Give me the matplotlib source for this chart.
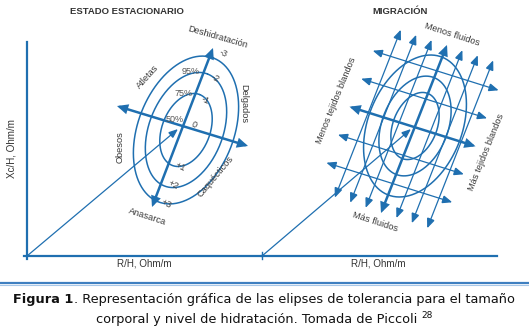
import numpy as np
import matplotlib
matplotlib.use("Agg")
import matplotlib.pyplot as plt
from matplotlib.patches import FancyArrowPatch

# ---- chart content -------------------------------------------------------
panel_titles = ["ESTADO ESTACIONARIO", "MIGRACIÓN"]
x_label = "R/H, Ohm/m"
y_label = "Xc/H, Ohm/m"

ellipse_levels = ["50%", "75%", "95%"]
left_semi_major = [38, 60, 77]
left_semi_minor = [24, 37, 48]
right_semi_major = [35, 52, 74]
right_semi_minor = [22, 33, 47]

z_scores = ["-3", "-2", "-1", "0", "+1", "+2", "+3"]

left_labels = ["Deshidratación", "Atletas", "Delgados", "Obesos", "Caquécticos", "Anasarca"]
right_labels = ["Menos fluidos", "Menos tejidos blandos", "Más tejidos blandos", "Más fluidos"]

long_arrow_steps = [-3, -2, -1, 0, 1, 2, 3]
cross_arrow_steps = [-2, -1, 0, 1, 2]

caption_bold = "Figura 1"
caption_line1 = ". Representación gráfica de las elipses de tolerancia para el tamaño"
caption_line2 = "corporal y nivel de hidratación. Tomada de Piccoli "
caption_ref = "28"

BLUE = "#1f6fb0"
TXT = "#3a3a3a"
DFONT = "Liberation Sans"
CFONT = "DejaVu Sans"


def unit(p0, p1):
    d = np.array(p1, float) - np.array(p0, float)
    return d / np.hypot(*d)


def arrow(ax, p0, p1, lw, style="<|-|>", hl=5.5, hw=2.3):
    ax.add_patch(FancyArrowPatch(p0, p1, arrowstyle=f"{style},head_length={hl},head_width={hw}",
                                 mutation_scale=1, lw=lw, color=BLUE, shrinkA=0, shrinkB=0,
                                 joinstyle="miter"))


def ellipse(ax, c, a, b, u, lw=1.1):
    t = np.linspace(0, 2 * np.pi, 300)
    v = np.array([-u[1], u[0]])
    x = c[0] + a * np.cos(t) * u[0] + b * np.sin(t) * v[0]
    y = c[1] + a * np.cos(t) * u[1] + b * np.sin(t) * v[1]
    ax.plot(x, y, color=BLUE, lw=lw, solid_capstyle="round")


def label(ax, x, y, s, rot=0, size=6.2, color=TXT, **kw):
    ax.text(x, y, s, rotation=rot, rotation_mode="anchor", ha="center", va="center",
            fontsize=size, color=color, family=DFONT, **kw)


fig = plt.figure(figsize=(5.29, 3.36), dpi=100)
ax = fig.add_axes([0, 0, 1, 1])
ax.set_xlim(0, 529)
ax.set_ylim(336, 0)
ax.axis("off")

# ---- axes of the graphs --------------------------------------------------
ax.plot([27, 27], [42, 259], color=BLUE, lw=1.6)
ax.plot([24, 262], [256, 256], color=BLUE, lw=1.6)
ax.plot([262, 262], [252, 259], color=BLUE, lw=1.0)
ax.plot([262, 497], [256, 256], color=BLUE, lw=1.6)

label(ax, 127, 11, panel_titles[0], size=6.8, color="#333333", weight="bold")
label(ax, 400, 11, panel_titles[1], size=6.8, color="#333333", weight="bold")
label(ax, 144, 263, x_label, size=7.1, color="#333333")
label(ax, 378, 263, x_label, size=7.1, color="#333333")
label(ax, 12, 148, y_label, rot=90, size=7.1, color="#333333")

# ---- left panel: steady state --------------------------------------------
top1, bot1 = (213, 48), (152, 207)
u1 = unit(bot1, top1)
c1 = (186, 130)
for a, b in zip(left_semi_major, left_semi_minor):
    ellipse(ax, c1, a, b, u1)

pct_pos = [(175, 119), (184, 94), (191, 72)]
for (x, y), s in zip(pct_pos, ellipse_levels):
    label(ax, x, y, s, size=6.5, color="#555555")

arrow(ax, bot1, top1, 1.8, hl=5.0, hw=2.3)
arrow(ax, (117, 106), (248, 146), 1.8, hl=5.0, hw=2.3)
arrow(ax, (27, 256), (178, 129), 0.9, style="-|>", hl=5.5, hw=2.2)

z_pos = [(223, 53), (215, 78), (205, 100), (194, 125), (180, 167), (173, 185), (166, 204)]
for (x, y), s in zip(z_pos, z_scores):
    label(ax, x, y, s, rot=-25, size=6.6, color="#444444")

left_lab_pos = [(218, 37, -16), (148, 77, 48), (244, 104, -90),
                (120, 147, 90), (215, 177, 50), (147, 217, -18)]
for (x, y, r), s in zip(left_lab_pos, left_labels):
    label(ax, x, y, s, rot=r, size=6.7)

# ---- right panel: migration ----------------------------------------------
c2 = (415, 126)
u2 = unit((381, 213), (447, 45))
for a, b in zip(right_semi_major, right_semi_minor):
    ellipse(ax, c2, a, b, u2)

long_c = np.array([414.0, 129.0])
long_step = np.array([15.4, 5.1])
long_half = np.array([33.0, -84.0])
for k in long_arrow_steps:
    mid = long_c + k * long_step
    lw = 1.8 if k == 0 else 0.9
    hl, hw = (5.0, 2.3) if k == 0 else (5.8, 2.4)
    arrow(ax, tuple(mid - long_half), tuple(mid + long_half), lw, hl=hl, hw=hw)

cross_c = np.array([412.5, 126.5])
cross_step = np.array([-11.6, 28.0])
cross_half = np.array([63.0, 19.8])
for k in cross_arrow_steps:
    mid = cross_c + k * cross_step
    lw = 1.8 if k == 0 else 0.9
    hl, hw = (5.0, 2.3) if k == 0 else (5.8, 2.4)
    arrow(ax, tuple(mid - cross_half), tuple(mid + cross_half), lw, hl=hl, hw=hw)

arrow(ax, (262, 256), (411, 129), 0.9, style="-|>", hl=5.5, hw=2.2)

right_lab_pos = [(452, 34, -18), (336, 100, 68), (486, 152, 68), (375, 222, -18)]
for (x, y, r), s in zip(right_lab_pos, right_labels):
    label(ax, x, y, s, rot=r, size=6.7)

# ---- separator and caption -----------------------------------------------
ax.plot([0, 529], [283, 283], color="#3f7fc0", lw=1.6)
ax.plot([0, 529], [284.5, 284.5], color="#a9c8e8", lw=0.8)

fig.canvas.draw()
rend = fig.canvas.get_renderer()
csize = 9.3
t1 = ax.text(0, 299, caption_bold, fontsize=csize, family=CFONT, weight="bold",
             va="center", ha="left", color="#111111")
t2 = ax.text(0, 299, caption_line1, fontsize=csize, family=CFONT,
             va="center", ha="left", color="#111111")
w1 = t1.get_window_extent(rend).width
w2 = t2.get_window_extent(rend).width
x0 = 264 - (w1 + w2) / 2
t1.set_x(x0)
t2.set_x(x0 + w1)

t3 = ax.text(0, 319, caption_line2, fontsize=csize, family=CFONT,
             va="center", ha="left", color="#111111")
t4 = ax.text(0, 315, caption_ref, fontsize=csize * 0.7, family=CFONT,
             va="center", ha="left", color="#111111")
w3 = t3.get_window_extent(rend).width
w4 = t4.get_window_extent(rend).width
x1 = 264 - (w3 + w4) / 2
t3.set_x(x1)
t4.set_x(x1 + w3)

fig.savefig("out.png", dpi=100, facecolor="white")
